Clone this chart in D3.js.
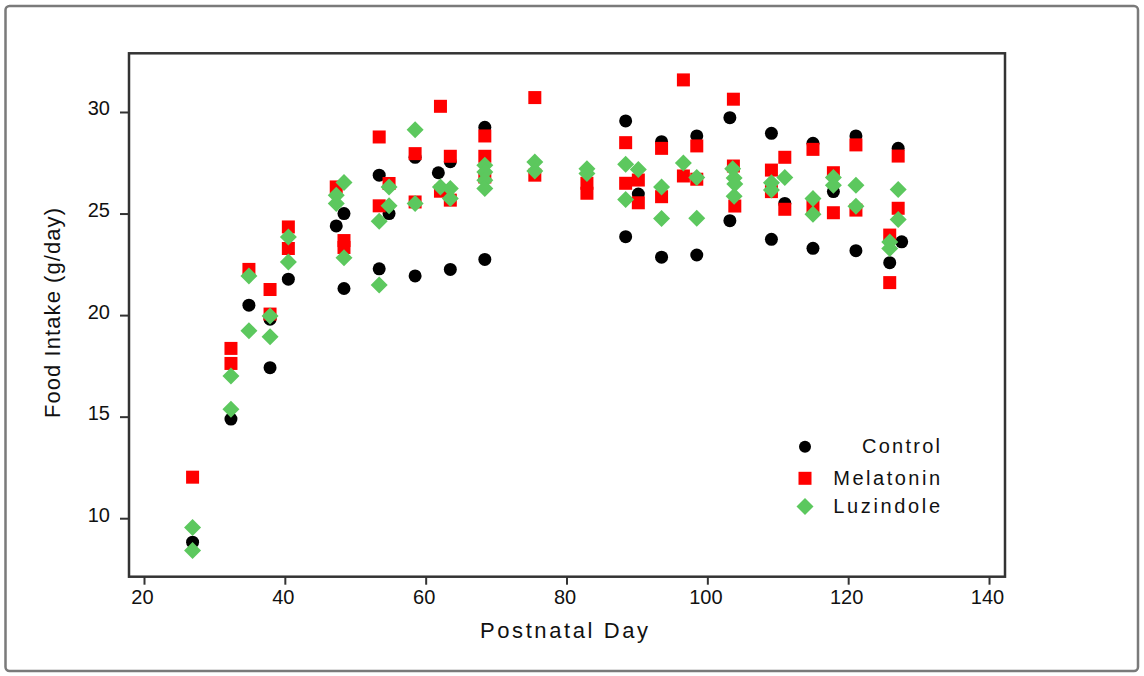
<!DOCTYPE html>
<html>
<head>
<meta charset="utf-8">
<script src="https://cdn.jsdelivr.net/npm/d3@7"></script>
<style>
  html, body { margin: 0; padding: 0; background: #fff; }
  svg { display: block; }
  text { font-family: "Liberation Sans", Arial, sans-serif; fill: #111; }
</style>
</head>
<body>
<svg id="chart" width="1144" height="676"></svg>
<script>
// ---------- data ----------
const seriesNames = ["Control", "Melatonin", "Luzindole"];

const controlDay   = [26.9, 32.35, 34.9, 37.9, 37.9, 40.5, 47.3, 48.4, 48.4, 53.4, 53.4, 54.8, 58.5, 58.5, 61.8, 63.5, 63.5, 68.4, 68.4,
                      88.4, 88.4, 90.2, 93.5, 93.5, 98.5, 98.5, 103.2, 103.2, 109.1, 109.1, 111.0, 115.0, 115.0, 117.9, 121.1, 121.1, 125.9, 127.1, 127.6];
const controlValue = [8.82, 14.88, 20.49, 19.8, 17.41, 21.77, 24.39, 25.0, 21.31, 26.89, 22.28, 25.0, 27.77, 21.93, 27.01, 27.55, 22.25, 29.25, 22.74,
                      29.56, 23.86, 25.96, 28.54, 22.85, 28.82, 22.96, 29.72, 24.65, 28.95, 23.73, 25.5, 28.46, 23.29, 26.08, 28.82, 23.17, 22.58, 28.21, 23.61];

const melatoninDay   = [26.9, 32.35, 32.35, 34.9, 37.9, 37.9, 40.5, 40.5, 47.3, 48.4, 48.4, 53.4, 53.4, 54.8, 58.5, 58.5, 62.1, 62.1, 63.5, 63.5,
                        68.4, 68.4, 68.4, 75.5, 75.5, 82.9, 82.9, 88.4, 88.4, 90.2, 90.2, 93.5, 93.5, 96.6, 96.6, 98.5, 98.5,
                        103.7, 103.7, 103.9, 109.1, 109.1, 111.0, 111.0, 115.0, 115.0, 117.9, 117.9, 121.1, 121.1, 125.9, 125.9, 127.1, 127.1];
const melatoninValue = [12.02, 18.36, 17.62, 22.25, 21.26, 20.05, 24.34, 23.28, 26.31, 23.67, 23.33, 28.77, 25.38, 26.48, 27.95, 25.57, 30.28, 26.1, 27.82, 25.66,
                        28.82, 27.82, 26.8, 30.71, 26.89, 26.49, 26.0, 28.49, 26.49, 26.65, 25.53, 28.21, 25.83, 31.58, 26.85, 28.33, 26.69,
                        30.63, 27.34, 25.37, 27.14, 26.08, 27.77, 25.21, 28.16, 25.34, 27.01, 25.04, 28.38, 25.17, 23.94, 21.6, 27.83, 25.26];

const luzindoleDay   = [26.9, 26.9, 32.35, 32.35, 34.9, 34.9, 37.9, 37.9, 40.5, 40.5, 47.3, 47.3, 48.4, 48.4, 53.4, 53.4, 54.8, 54.8, 58.5, 58.5,
                        62.1, 63.5, 63.5, 68.4, 68.4, 68.4, 68.4, 75.5, 75.5, 82.9, 82.9, 88.4, 88.4, 90.2, 93.5, 93.5, 96.6, 98.5, 98.5,
                        103.6, 103.8, 103.9, 103.8, 109.1, 109.1, 111.0, 115.0, 115.0, 117.9, 117.9, 121.1, 121.1, 125.9, 125.9, 127.1, 127.1];
const luzindoleValue = [9.54, 8.41, 17.0, 15.36, 21.93, 19.23, 19.95, 18.93, 23.85, 22.62, 25.9, 25.49, 26.53, 22.82, 24.62, 21.48, 26.31, 25.38, 29.13, 25.5,
                        26.31, 26.23, 25.74, 27.38, 27.05, 26.64, 26.23, 27.54, 27.1, 27.21, 26.97, 27.43, 25.69, 27.17, 26.31, 24.76, 27.49, 26.78, 24.77,
                        27.21, 26.75, 26.45, 25.85, 26.52, 26.16, 26.78, 25.74, 24.97, 26.78, 26.39, 26.39, 25.36, 23.6, 23.28, 26.18, 24.71];

const xTicks = [20, 40, 60, 80, 100, 120, 140];
const yTicks = [10, 15, 20, 25, 30];
const xTitle = "Postnatal Day";
const yTitle = "Food Intake (g/day)";

// ---------- layout ----------
const svg = d3.select("#chart");
const frame = { left: 129, right: 1005, top: 53.3, bottom: 576.7 };

const x = d3.scaleLinear().domain([17.87, 142.27]).range([frame.left, frame.right]);
const y = d3.scaleLinear().domain([7.12, 32.89]).range([frame.bottom, frame.top]);

// outer border
svg.append("rect")
  .attr("x", 5.5).attr("y", 6).attr("width", 1132.5).attr("height", 665)
  .attr("rx", 4).attr("fill", "none").attr("stroke", "#7a7a7a").attr("stroke-width", 2.5);

// axes
const xAxis = svg.append("g")
  .attr("transform", `translate(0,${frame.bottom})`)
  .call(d3.axisBottom(x).tickValues(xTicks).tickSize(8).tickPadding(5).tickFormat(d3.format("d")));
const yAxis = svg.append("g")
  .attr("transform", `translate(${frame.left},0)`)
  .call(d3.axisLeft(y).tickValues(yTicks).tickSize(9).tickPadding(10).tickFormat(d3.format("d")));

[xAxis, yAxis].forEach(g => {
  g.select(".domain").remove();
  g.selectAll(".tick line").attr("stroke", "#333").attr("stroke-width", 2);
  g.selectAll(".tick text").attr("fill", "#111").style("font-size", "20px")
    .style("font-family", '"Liberation Sans", Arial, sans-serif');
});
xAxis.selectAll(".tick text").attr("dx", "-2");
yAxis.selectAll(".tick text").attr("dy", "0.15em");

// plot frame
svg.append("rect")
  .attr("x", frame.left).attr("y", frame.top)
  .attr("width", frame.right - frame.left).attr("height", frame.bottom - frame.top)
  .attr("fill", "none").attr("stroke", "#333").attr("stroke-width", 2.5);

// titles
svg.append("text")
  .attr("x", 564).attr("y", 638)
  .attr("text-anchor", "middle")
  .attr("textLength", 168).attr("lengthAdjust", "spacing")
  .style("font-size", "22px")
  .text(xTitle);

svg.append("text")
  .attr("transform", "translate(60,313) rotate(-90)")
  .attr("text-anchor", "middle")
  .attr("textLength", 210).attr("lengthAdjust", "spacing")
  .style("font-size", "22px")
  .text(yTitle);

// markers
const colors = ["#000000", "#ff0000", "#5cc85e"];
const diamond = "M0,-8.5L8.5,0L0,8.5L-8.5,0Z";

function pairs(days, vals) { return days.map((d, i) => [d, vals[i]]); }

const plot = svg.append("g");
plot.selectAll("circle.control")
  .data(pairs(controlDay, controlValue)).join("circle")
  .attr("class", "control")
  .attr("cx", d => x(d[0])).attr("cy", d => y(d[1])).attr("r", 6.5)
  .attr("fill", colors[0]);

plot.selectAll("rect.mel")
  .data(pairs(melatoninDay, melatoninValue)).join("rect")
  .attr("class", "mel")
  .attr("x", d => x(d[0]) - 6.5).attr("y", d => y(d[1]) - 6.5)
  .attr("width", 13).attr("height", 13)
  .attr("fill", colors[1]);

plot.selectAll("path.luz")
  .data(pairs(luzindoleDay, luzindoleValue)).join("path")
  .attr("class", "luz")
  .attr("d", diamond)
  .attr("transform", d => `translate(${x(d[0])},${y(d[1])})`)
  .attr("fill", colors[2]);

// legend
const legendRows = [446.7, 478.3, 506.5];
const legendWidths = [78, 106.7, 106.7];
const legend = svg.append("g");
seriesNames.forEach((name, i) => {
  const cy = legendRows[i];
  if (i === 0) {
    legend.append("circle").attr("cx", 805).attr("cy", cy).attr("r", 6).attr("fill", colors[0]);
  } else if (i === 1) {
    legend.append("rect").attr("x", 798.5).attr("y", cy - 6.5).attr("width", 13).attr("height", 13).attr("fill", colors[1]);
  } else {
    legend.append("path").attr("d", diamond).attr("transform", `translate(805,${cy})`).attr("fill", colors[2]);
  }
  legend.append("text")
    .attr("x", 940).attr("y", cy + 6.5)
    .attr("text-anchor", "end")
    .attr("textLength", legendWidths[i]).attr("lengthAdjust", "spacing")
    .style("font-size", "20px")
    .text(name);
});
</script>
</body>
</html>
